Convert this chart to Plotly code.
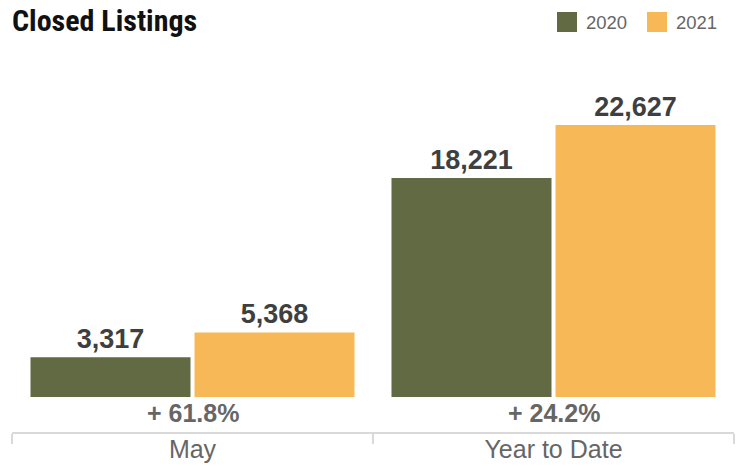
import plotly.graph_objects as go

categories = ["May", "Year to Date"]
series_names = ["2020", "2021"]
values_2020 = [3317, 18221]
values_2021 = [5368, 22627]
colors = ["#616a42", "#f7b958"]

W, H = 743, 466
ML, MR, MT, MB = 12, 9, 60, 34
PW, PH = W - ML - MR, H - MT - MB

scale = 272 / 22627  # px per unit
ymin = -35 / scale
ymax = (397 - MT) / scale

def px2x(px):
    return (px - ML) / PW

def py2y(py):
    return (H - MB - py) / PH

font_main = "Liberation Sans, Arial, Helvetica, sans-serif"

fig = go.Figure()
for name, vals, col in zip(series_names, [values_2020, values_2021], colors):
    fig.add_trace(go.Bar(
        x=categories, y=vals, name=name, marker=dict(color=col, line=dict(width=0)),
        texttemplate="<b>%{y:,}</b>", textposition="outside",
        textfont=dict(family=font_main, size=27, color="#3f3f3f"),
        cliponaxis=False, showlegend=False, hoverinfo="skip",
    ))

# percentage change annotations
for cat, a, b in zip(categories, values_2020, values_2021):
    pct = (b - a) / a * 100
    fig.add_annotation(
        x=cat, y=-(413 - 397) / scale, xref="x", yref="y",
        text=f"<b>+ {pct:.1f}%</b>", showarrow=False,
        font=dict(family=font_main, size=25, color="#666666"),
        yanchor="middle",
    )

# legend (squares + labels)
legend_x = [557, 647]
for name, col, lx in zip(series_names, colors, legend_x):
    fig.add_shape(type="rect", xref="paper", yref="paper",
                  x0=px2x(lx), x1=px2x(lx + 20), y0=py2y(32), y1=py2y(12),
                  fillcolor=col, line=dict(width=0))
    fig.add_annotation(x=px2x(lx + 27), y=py2y(22), xref="paper", yref="paper",
                       text=name, showarrow=False, xanchor="left", yanchor="middle",
                       font=dict(family=font_main, size=18.5, color="#666666"))

fig.update_layout(
    width=W, height=H,
    margin=dict(l=ML, r=MR, t=MT, b=MB),
    paper_bgcolor="white", plot_bgcolor="white",
    barmode="group", bargap=0.0914, bargroupgap=0.0244,
    showlegend=False,
    title=dict(text="<b>Closed Listings</b>", x=12 / W, xanchor="left",
               yref="container", y=1 - 20 / H, yanchor="middle",
               font=dict(family="Roboto Condensed, DejaVu Sans Condensed, sans-serif", size=30, color="#111111")),
    xaxis=dict(showline=True, linecolor="#d9d9d9", linewidth=2,
               ticks="outside", tickson="boundaries", ticklen=10, tickwidth=2,
               tickcolor="#d9d9d9", showgrid=False, automargin=False,
               tickfont=dict(family=font_main, size=25, color="#666666"),
               ticklabelstandoff=-6),
    yaxis=dict(visible=False, range=[ymin, ymax], showgrid=False, zeroline=False),
)

fig.write_html("out.html", config={"displayModeBar": False},
               post_script="document.body.style.margin='0';document.body.style.padding='0';")
